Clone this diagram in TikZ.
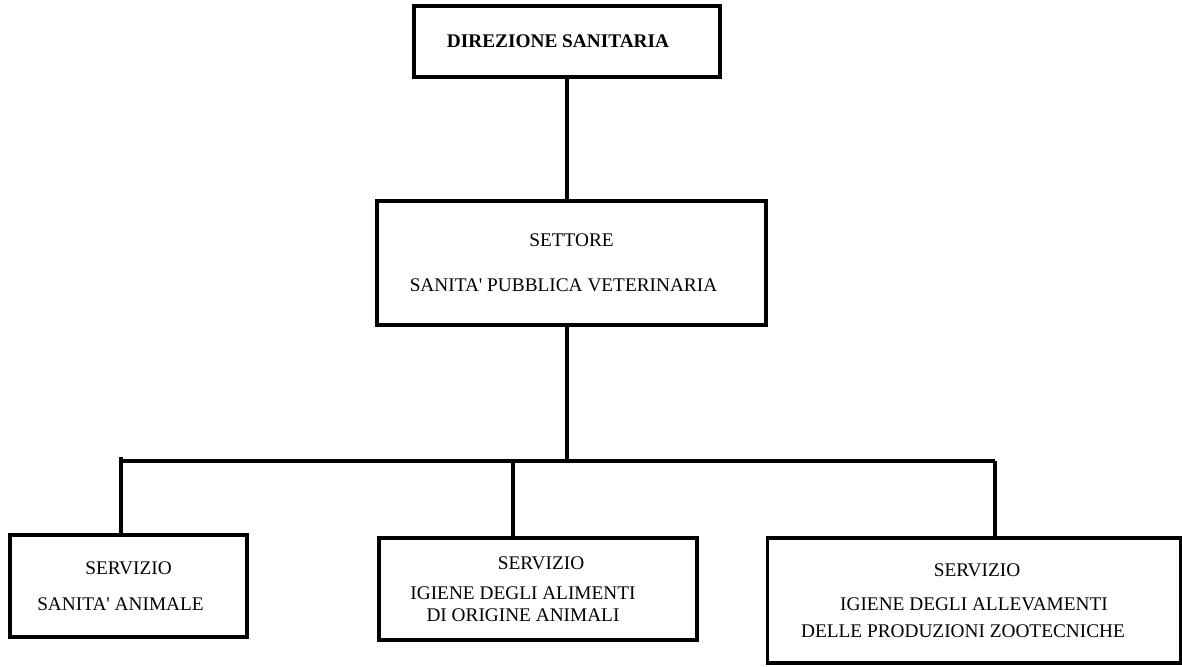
\documentclass[tikz,border=0pt]{standalone}
\usepackage{fontspec}
\setmainfont{Liberation Serif}
\usepackage{tikz}
\usetikzlibrary{positioning}

\begin{document}
\begin{tikzpicture}[x=1pt, y=1pt, node distance=221.5pt,
                    box/.style={rectangle, draw, line width=3.6pt, inner sep=0pt, align=center,
                                font=\fontsize{19.3}{22}\selectfont},
                    link/.style={line width=3.2pt}]
                    \useasboundingbox (0,0) rectangle (1182,-666);

                    \node (direzione) [box, minimum width=306pt, minimum height=71pt] at (567,-41.5) {\hspace*{-18pt}\textbf{DIREZIONE SANITARIA}};
                    \node (settore) [box, minimum width=389pt, minimum height=124pt, below of=direzione, xshift=4.5pt] {SETTORE\\[23pt]\hspace*{-16pt}SANITA\textquotesingle{} PUBBLICA VETERINARIA};

                    \node (animale) [box, minimum width=237pt, minimum height=102pt] at (128.5,-586) {SERVIZIO\\[14pt]\hspace*{-16pt}SANITA\textquotesingle{} ANIMALE};
                    \node (alimenti) [box, minimum width=318pt, minimum height=102pt] at (538,-589) {\hspace*{6pt}SERVIZIO\\[8pt]\hspace*{-30pt}IGIENE DEGLI ALIMENTI\\\hspace*{-30pt}DI ORIGINE ANIMALI};
                    \node (zootecnia) [box, minimum width=413pt, minimum height=125pt] at (974,-600.5) {\hspace*{6pt}SERVIZIO\\[12pt]IGIENE DEGLI ALLEVAMENTI\\[5pt]\hspace*{-22pt}DELLE PRODUZIONI ZOOTECNICHE};

                    \coordinate (busL) at (121,-461);
                    \coordinate (busM) at (567,-461);
                    \coordinate (busC) at (513,-461);
                    \coordinate (busR) at (995,-461);

                    \draw[link] (direzione.south) -- (direzione.south |- settore.north);
                    \draw[link] (busM |- settore.south) -- ([yshift=-1.5pt]busM);
                    \draw[link] (busL) -- (busR);

                    \draw[link] ([yshift=4pt]busL) -- (busL |- animale.north);
                    \draw[link] (busC) -- (busC |- alimenti.north);
                    \draw[link] (busR) -- (busR |- zootecnia.north);

                \end{tikzpicture}
\end{document}
